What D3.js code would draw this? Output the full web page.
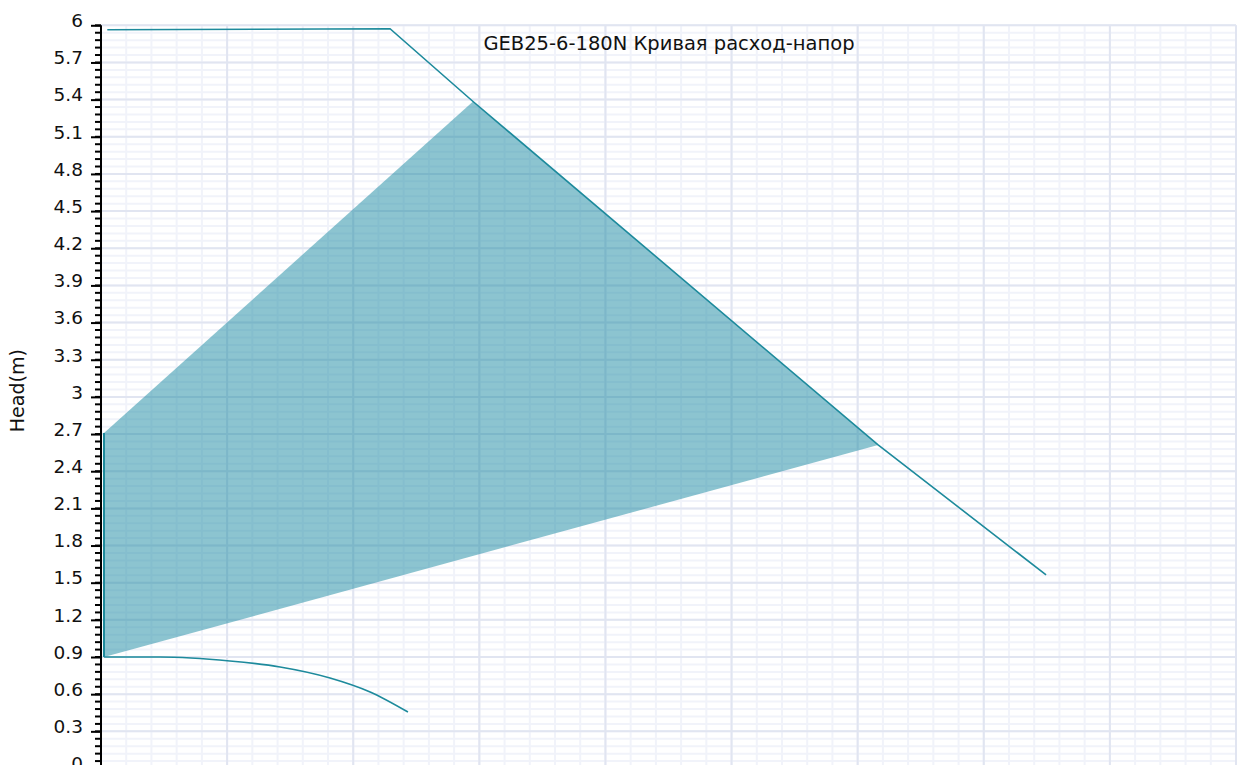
<!DOCTYPE html>
<html>
<head>
<meta charset="utf-8">
<script src="https://d3js.org/d3.v7.min.js"></script>
<style>
  body { margin: 0; padding: 0; background: #fff; }
  svg text { font-family: 'DejaVu Sans', sans-serif; }
  .grid-major line { stroke: #e1e5f1; stroke-width: 2; }
  .grid-minor line { stroke: #f1f3fa; stroke-width: 2; }
  .axis path, .axis line { stroke: #000; }
</style>
</head>
<body>
<svg id="chart"></svg>
<script>
// chart data (flow m3/h, head m)
var title = "GEB25-6-180N Кривая расход-напор";
var yLabel = "Head(m)";

var yTicks = [0, 0.3, 0.6, 0.9, 1.2, 1.5, 1.8, 2.1, 2.4, 2.7, 3, 3.3, 3.6, 3.9, 4.2, 4.5, 4.8, 5.1, 5.4, 5.7, 6];
var xTicks = [0, 0.5, 1, 1.5, 2, 2.5, 3, 3.5, 4, 4.5];

// max speed curve
var maxFlow = [0.025, 1.146, 1.475, 3.081, 3.747];
var maxHead = [5.964, 5.972, 5.385, 2.612, 1.563];

// min speed curve
var minFlow = [0.012, 0.234, 0.511, 0.710, 0.908, 1.067, 1.217];
var minHead = [0.900, 0.900, 0.868, 0.820, 0.731, 0.618, 0.456];

// working area
var areaFlow = [0.012, 1.475, 3.081, 0.012];
var areaHead = [2.709, 5.385, 2.612, 0.900];

var W = 1240, H = 765;
var margin = {left: 101, top: 25.3};
var plotW = 1135, plotH = 743.2;

var svg = d3.select("#chart").attr("width", W).attr("height", H);

var x = d3.scaleLinear().domain([0, 4.5]).range([margin.left, margin.left + plotW]);
var y = d3.scaleLinear().domain([0, 6]).range([margin.top + plotH, margin.top]);

var xMinor = d3.range(0, 4.5001, 0.1);
var yMinor = d3.range(0, 6.0001, 0.06);

// grid
var gMinor = svg.append("g").attr("class", "grid-minor");
gMinor.selectAll(".v").data(xMinor).enter().append("line")
  .attr("x1", d => x(d)).attr("x2", d => x(d))
  .attr("y1", y(0)).attr("y2", y(6));
gMinor.selectAll(".h").data(yMinor).enter().append("line")
  .attr("y1", d => y(d)).attr("y2", d => y(d))
  .attr("x1", x(0)).attr("x2", x(4.5));

var gMajor = svg.append("g").attr("class", "grid-major");
gMajor.selectAll(".v").data(xTicks).enter().append("line")
  .attr("x1", d => x(d)).attr("x2", d => x(d))
  .attr("y1", y(0)).attr("y2", y(6));
gMajor.selectAll(".h").data(yTicks).enter().append("line")
  .attr("y1", d => y(d)).attr("y2", d => y(d))
  .attr("x1", x(0)).attr("x2", x(4.5));

var teal = "#1d8a9c";

// working area polygon
var areaPts = areaFlow.map((f, i) => [x(f), y(areaHead[i])]);
svg.append("path")
  .attr("d", d3.line()(areaPts) + "Z")
  .attr("fill", "#1a8aa2")
  .attr("fill-opacity", 0.5)
  .attr("stroke", "none");
// left edge of working area
svg.append("line")
  .attr("x1", x(areaFlow[0])).attr("x2", x(areaFlow[3]))
  .attr("y1", y(areaHead[0])).attr("y2", y(areaHead[3]))
  .attr("stroke", teal).attr("stroke-width", 2);

var line = d3.line().x(d => x(d[0])).y(d => y(d[1]));

svg.append("path")
  .datum(maxFlow.map((f, i) => [f, maxHead[i]]))
  .attr("d", line)
  .attr("fill", "none").attr("stroke", teal).attr("stroke-width", 1.6);

svg.append("path")
  .datum(minFlow.map((f, i) => [f, minHead[i]]))
  .attr("d", line.curve(d3.curveMonotoneX))
  .attr("fill", "none").attr("stroke", teal).attr("stroke-width", 1.6);

// axes
var yAxis = d3.axisLeft(y).tickValues(yTicks).tickSize(10).tickPadding(8).tickFormat(d3.format("~g"));
var gy = svg.append("g").attr("class", "axis")
  .attr("transform", "translate(" + margin.left + ",0)")
  .call(yAxis);
gy.select(".domain").attr("stroke-width", 2).attr("d", "M0," + y(0) + "V" + y(6));
gy.selectAll(".tick line").attr("stroke-width", 2);
gy.selectAll(".tick text")
  .attr("dy", "0.07em")
  .style("font-size", "18.5px")
  .style("font-family", "'DejaVu Sans', sans-serif")
  .style("fill", "#111");

// minor ticks on y
svg.append("g").selectAll("line").data(yMinor).enter().append("line")
  .attr("x1", margin.left - 6).attr("x2", margin.left)
  .attr("y1", d => y(d)).attr("y2", d => y(d))
  .attr("stroke", "#000").attr("stroke-width", 2);

// x axis sits below the visible area, only its ticks
var xAxis = d3.axisBottom(x).tickValues(xTicks).tickSize(8).tickFormat("");
svg.append("g").attr("class", "axis")
  .attr("transform", "translate(0," + y(0) + ")")
  .call(xAxis);

// labels
svg.append("text")
  .attr("x", 669).attr("y", 50)
  .attr("text-anchor", "middle")
  .style("font-size", "19.5px").style("fill", "#111")
  .text(title);

svg.append("text")
  .attr("transform", "translate(24," + (y(3.05)) + ") rotate(-90)")
  .attr("text-anchor", "middle")
  .style("font-size", "19px").style("fill", "#111")
  .text(yLabel);
</script>
</body>
</html>
